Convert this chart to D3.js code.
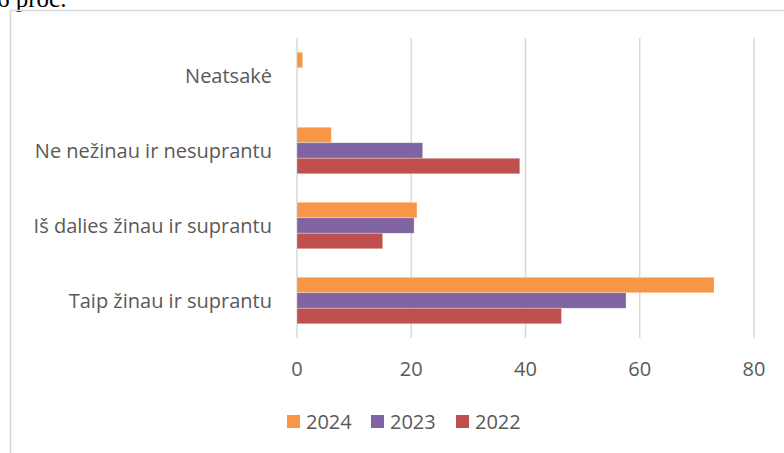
<!DOCTYPE html>
<html>
<head>
<meta charset="utf-8">
<script src="https://cdn.jsdelivr.net/npm/d3@7"></script>
<style>
  body { margin: 0; background: #fff; }
  svg { display: block; }
</style>
</head>
<body>
<script>
// Data
const categories = ["Taip žinau ir suprantu", "Iš dalies žinau ir suprantu", "Ne nežinau ir nesuprantu", "Neatsakė"];
const years = ["2024", "2023", "2022"];
const values2024 = [73, 21, 6, 1];
const values2023 = [57.6, 20.5, 22, 0];
const values2022 = [46.3, 15, 39, 0];
const xTicks = [0, 20, 40, 60, 80];
const colors = ["#F79646", "#8064A2", "#C0504D"];

const W = 784, H = 453;
const plot = {left: 297, right: 754, top: 38, bottom: 338};

const svg = d3.select("body").append("svg")
    .attr("width", W)
    .attr("height", H);

// caption fragment above chart box (cut by the top edge, as in the source)
svg.append("text")
    .attr("x", -3).attr("y", 7)
    .style("font-family", "'Liberation Serif', serif")
    .style("font-size", "25px")
    .attr("fill", "#000")
    .text("6 proc.");

// chart border
svg.append("rect")
    .attr("x", 10.5).attr("y", 10.5)
    .attr("width", W).attr("height", H)
    .attr("fill", "none")
    .attr("stroke", "#d9d9d9")
    .attr("stroke-width", 1.5);

const x = d3.scaleLinear().domain([0, 80]).range([plot.left, plot.right]);

// categories bottom to top
const y = d3.scaleBand()
    .domain(categories)
    .range([plot.bottom, plot.top])
    .paddingInner(0.38)
    .paddingOuter(0.19);

const ySub = d3.scaleBand().domain(years).range([0, y.bandwidth()]);

// gridlines
svg.append("g").selectAll("line")
    .data(xTicks)
    .join("line")
    .attr("x1", d => x(d)).attr("x2", d => x(d))
    .attr("y1", plot.top).attr("y2", plot.bottom)
    .attr("stroke", "#d9d9d9")
    .attr("stroke-width", 1.5);

// bars
const series = [values2024, values2023, values2022];
years.forEach((yr, si) => {
    svg.append("g").selectAll("rect")
        .data(categories.map((c, i) => ({cat: c, v: series[si][i]})).filter(d => d.v > 0))
        .join("rect")
        .attr("x", x(0))
        .attr("y", d => y(d.cat) + ySub(yr))
        .attr("width", d => x(d.v) - x(0))
        .attr("height", ySub.bandwidth())
        .attr("fill", colors[si])
        .attr("stroke", "#fff")
        .attr("stroke-opacity", 0.4)
        .attr("stroke-width", 0.75);
});

// category labels
svg.append("g").selectAll("text")
    .data(categories)
    .join("text")
    .attr("x", 272)
    .attr("y", d => y(d) + y.bandwidth() / 2)
    .attr("dy", "0.35em")
    .attr("text-anchor", "end")
    .style("font-family", "'Open Sans', sans-serif")
    .style("font-size", "20px")
    .attr("fill", "#595959")
    .text(d => d);

// x tick labels
svg.append("g").selectAll("text")
    .data(xTicks)
    .join("text")
    .attr("x", d => x(d))
    .attr("y", 369)
    .attr("dy", "0.35em")
    .attr("text-anchor", "middle")
    .style("font-family", "'Open Sans', sans-serif")
    .style("font-size", "20px")
    .attr("fill", "#595959")
    .text(d => d);

// legend
const legendX = [287, 371, 456];
const legend = svg.append("g").selectAll("g")
    .data(years)
    .join("g")
    .attr("transform", (d, i) => `translate(${legendX[i]},415)`);
legend.append("rect")
    .attr("width", 13).attr("height", 13)
    .attr("fill", (d, i) => colors[i]);
legend.append("text")
    .attr("x", 19).attr("y", 7)
    .attr("dy", "0.35em")
    .style("font-family", "'Open Sans', sans-serif")
    .style("font-size", "20px")
    .attr("fill", "#595959")
    .text(d => d);
</script>
</body>
</html>
